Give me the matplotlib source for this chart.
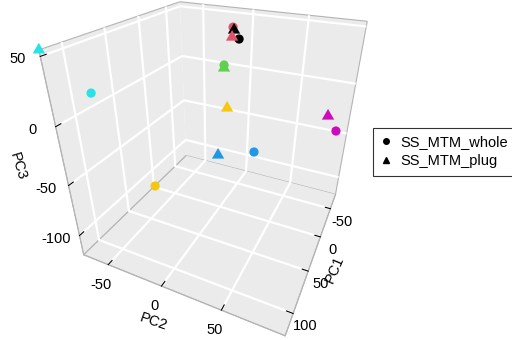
import matplotlib
matplotlib.use("Agg")
import matplotlib.pyplot as plt
from matplotlib.path import Path
from matplotlib.lines import Line2D
from mpl_toolkits.mplot3d import proj3d
import numpy as np

plt.rcParams['font.family'] = ['Liberation Sans', 'DejaVu Sans']
plt.rcParams['axes.unicode_minus'] = False

# ---- data (PC scores) ----
samples = ['cyan', 'pink', 'black', 'green', 'yellow', 'blue', 'magenta']
colors = ['#28E2E5', '#DF536B', '#000000', '#61D04F', '#F5C710', '#2297E6', '#CD0BBC']
# SS_MTM_whole (circles)
whole_pc1 = [100.0, -60.0, -55.0, -50.0, -2.0, -40.0, 18.2]
whole_pc2 = [-57.0, -12.3, -4.5, -16.7, -74.7, 19.6, 97.2]
whole_pc3 = [21.1, 40.6, 31.9, 7.2, -121.4, -72.5, -6.3]
# SS_MTM_plug (triangles)
plug_pc1 = [122.3, -55.0, -60.0, -50.0, -45.0, -79.2, -63.9]
plug_pc2 = [-75.0, -11.2, -11.3, -16.7, -11.1, -34.0, 80.0]
plug_pc3 = [54.2, 32.8, 38.1, 4.3, -33.6, -109.5, -29.6]
groups = ['SS_MTM_whole', 'SS_MTM_plug']
pc1_ticks = [-50, 0, 50, 100]
pc2_ticks = [-50, 0, 50]
pc3_ticks = [-100, -50, 0, 50]

all1 = whole_pc1 + plug_pc1
all2 = whole_pc2 + plug_pc2
all3 = whole_pc3 + plug_pc3

tri = Path([(0, 1.1547), (-1, -0.5774), (1, -0.5774), (0, 1.1547)],
           [Path.MOVETO, Path.LINETO, Path.LINETO, Path.CLOSEPOLY])

W, H = 512, 340
fig = plt.figure(figsize=(W / 100, H / 100), dpi=100)
ax = fig.add_axes([0.09526, 0.0754, 340 / 512, 1.0], projection='3d')
ax.set_proj_type('persp', focal_length=0.2192)
ax.view_init(elev=29.47, azim=24.29, roll=-0.6932)
ax.set_box_aspect((1, 1, 1), zoom=1.049)

sc1 = ax.scatter(whole_pc1, whole_pc2, whole_pc3, c=colors, marker='o', s=44,
                 depthshade=False, edgecolors='none', alpha=1)
sc2 = ax.scatter(plug_pc1, plug_pc2, plug_pc3, c=colors, marker=tri, s=105,
                 depthshade=False, edgecolors='none', alpha=1)
sc1.set_clip_on(False)
sc2.set_clip_on(False)

x0, x1 = min(all1), max(all1)
y0, y1 = min(all2), max(all2)
z0, z1 = min(all3), max(all3)
ax.set_xlim(x0, x1)
ax.set_ylim(y0, y1)
ax.set_zlim(z0, z1)
ax.set_xticks(pc1_ticks)
ax.set_yticks(pc2_ticks)
ax.set_zticks(pc3_ticks)
for a in (ax.xaxis, ax.yaxis, ax.zaxis):
    a.set_pane_color('#EBEBEB')
    a.pane.set_edgecolor('#B4B4B4')
    a.pane.set_linewidth(0.8)
    a._axinfo['grid'].update(color='white', linewidth=1.6)
    a._axinfo['tick'].update(inward_factor=0.0, outward_factor=0.35)
    a.line.set_color('#B4B4B4')
    a.line.set_linewidth(0.8)
    a.set_tick_params(colors='black', labelcolor='none', labelsize=1)
ax.set_xlabel('')
ax.set_ylabel('')
ax.set_zlabel('')

# tick labels placed next to the projected tick positions
fig.canvas.draw()
M = ax.get_proj()


def put_labels(X, Y, Z, labels, dx, dy):
    xs, ys, _ = proj3d.proj_transform(np.asarray(X, float), np.asarray(Y, float),
                                      np.asarray(Z, float), M)
    pix = ax.transData.transform(np.column_stack([xs, ys]))
    for (px, py), lab in zip(pix, labels):
        fig.text((px + dx) / W, (py - dy) / H, str(lab), ha='center', va='center',
                 fontsize=10.5)


put_labels(pc1_ticks, [y1] * len(pc1_ticks), [z0] * len(pc1_ticks), pc1_ticks, 12, 13)
put_labels([x1] * len(pc2_ticks), pc2_ticks, [z0] * len(pc2_ticks), pc2_ticks, -7, 20)
put_labels([x1] * len(pc3_ticks), [y0] * len(pc3_ticks), pc3_ticks, pc3_ticks, -23, 3)

fig.text(18 / W, 1 - 166 / H, 'PC3', rotation=-73, ha='center', va='center',
         fontsize=10.5, rotation_mode='anchor')
fig.text(153 / W, 1 - 322 / H, 'PC2', rotation=-19, ha='center', va='center',
         fontsize=10.5, rotation_mode='anchor')
fig.text(335 / W, 1 - 269 / H, 'PC1', rotation=67, ha='center', va='center',
         fontsize=10.5, rotation_mode='anchor')

handles = [Line2D([], [], ls='none', marker='o', color='black', markersize=4),
           Line2D([], [], ls='none', marker='^', color='black', markersize=5)]
leg = fig.legend(handles, groups, loc='upper left', bbox_to_anchor=(373 / W, 1 - 128 / H),
                 frameon=True, fancybox=False, fontsize=10.5, handlelength=0.8,
                 handletextpad=0.6, borderpad=0.5, labelspacing=0.35, borderaxespad=0)
leg.get_frame().set_edgecolor('black')
leg.get_frame().set_linewidth(0.8)

fig.savefig('out.png', dpi=100)
